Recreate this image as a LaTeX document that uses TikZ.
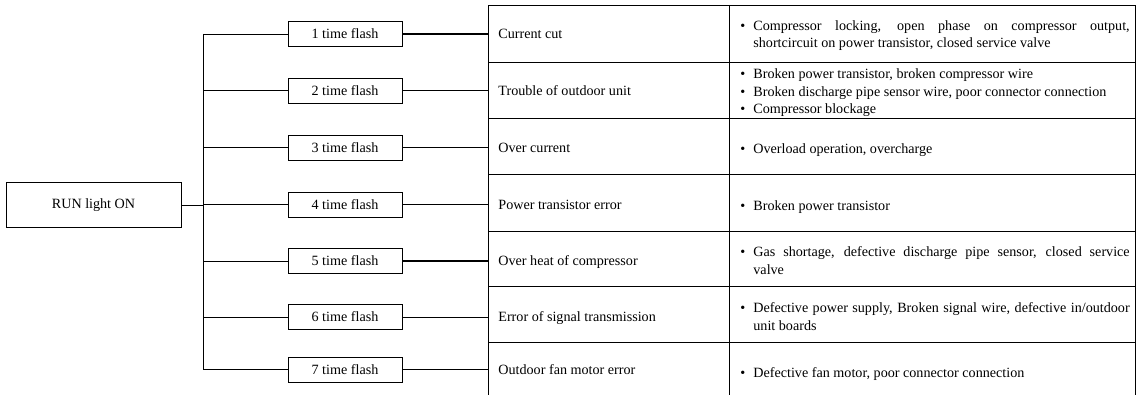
\documentclass[tikz,border=0pt]{standalone}
\usepackage{fontspec}
\setmainfont{Liberation Serif}
\usetikzlibrary{positioning}

\newlength{\bulw}
\setlength{\bulw}{9.75pt}
\newcommand{\bul}[1]{\par\noindent\makebox[\bulw][l]{\textbullet}\parbox[t]{282.25pt}{\setlength{\baselineskip}{13pt}#1}}

\begin{document}
\begin{tikzpicture}[x=0.75pt, y=-0.75pt, line width=0.6pt,
	font=\fontsize{10.6}{13}\selectfont,
	runbox/.style={draw, minimum width=131.25pt, minimum height=33.75pt, inner sep=0pt},
	flashbox/.style={draw, minimum width=85.5pt, minimum height=18.75pt, inner sep=0pt},
	fehler/.style={anchor=west, inner sep=0pt},
	ursache/.style={anchor=west, inner sep=0pt, text width=292pt, align=justify}]
	\useasboundingbox (0,0) rectangle (1138,395);
	
	% Zeichnet den Rahmen der Tabelle (unten offen)
	\draw (488,395) -- (488,5) -- (1135,5) -- (1135,395);
	\draw (729,5) -- (729,395);
	
	% Zeichnet die Zeilentrenner
	\draw (488,62) -- (1135,62);
	\draw (488,118) -- (1135,118);
	\draw (488,174) -- (1135,174);
	\draw (488,231) -- (1135,231);
	\draw (488,286) -- (1135,286);
	\draw (488,342) -- (1135,342);
	
	% Linke Kante der Tabelle und Stamm der Verzweigung
	\coordinate (tab) at (488,0);
	\coordinate (stamm) at (203,205);
	
	% Zeichnet das Startfeld
	\node[runbox] (run) at (93.5,205) {RUN light ON};
	
	% Zeichnet die Blinkfelder
	\node[flashbox] (f1) at (345,34) {1 time flash};
	\node[flashbox] (f2) at (345,90.5) {2 time flash};
	\node[flashbox] (f3) at (345,147.5) {3 time flash};
	\node[flashbox] (f4) at (345,204.5) {4 time flash};
	\node[flashbox] (f5) at (345,261) {5 time flash};
	\node[flashbox] (f6) at (345,317) {6 time flash};
	\node[flashbox] (f7) at (345,369.5) {7 time flash};
	
	% Zeichnet den Stamm und die Aeste zu den Blinkfeldern
	\draw (run.east) -- (stamm);
	\draw (stamm |- f1.west) -- (stamm |- f7.west);
	\draw (stamm |- f1.west) -- (f1.west);
	\draw (stamm |- f2.west) -- (f2.west);
	\draw (stamm |- f3.west) -- (f3.west);
	\draw (stamm |- f4.west) -- (f4.west);
	\draw (stamm |- f5.west) -- (f5.west);
	\draw (stamm |- f6.west) -- (f6.west);
	\draw (stamm |- f7.west) -- (f7.west);
	
	% Zeichnet die Verbindungen zur Tabelle
	\draw[line width=0.9pt] (f1.east) -- (f1.east -| tab);
	\draw[line width=0.9pt] (f2.east) -- (f2.east -| tab);
	\draw (f3.east) -- (f3.east -| tab);
	\draw (f4.east) -- (f4.east -| tab);
	\draw[line width=0.9pt] (f5.east) -- (f5.east -| tab);
	\draw (f6.east) -- (f6.east -| tab);
	\draw (f7.east) -- (f7.east -| tab);
	
	% Fehlerbezeichnungen in der ersten Spalte
	\node[fehler] (e1) at (498,34) {Current cut};
	\node[fehler] (e2) at (498,90.5) {Trouble of outdoor unit};
	\node[fehler] (e3) at (498,147.5) {Over current};
	\node[fehler] (e4) at (498,204.5) {Power transistor error};
	\node[fehler] (e5) at (498,262) {Over heat of compressor};
	\node[fehler] (e6) at (498,318) {Error of signal transmission};
	\node[fehler] (e7) at (498,370) {Outdoor fan motor error};
	
	% Ursachen in der zweiten Spalte
	\node[ursache] (u1) at (740,32) {\bul{Compressor locking, open phase on compressor output,\linebreak shortcircuit on power transistor, closed service valve}};
	\node[ursache] (u2) at (740,89) {\bul{Broken power transistor, broken compressor wire}\bul{Broken discharge pipe sensor wire, poor connector connection}\bul{Compressor blockage}};
	\node[ursache] (u3) at (740,146.5) {\bul{Overload operation, overcharge}};
	\node[ursache] (u4) at (740,203) {\bul{Broken power transistor}};
	\node[ursache] (u5) at (740,257) {\bul{Gas shortage, defective discharge pipe sensor, closed service\linebreak valve}};
	\node[ursache] (u6) at (740,313) {\bul{Defective power supply, Broken signal wire, defective in/outdoor\linebreak unit boards}};
	\node[ursache] (u7) at (740,370) {\bul{Defective fan motor, poor connector connection}};
	
\end{tikzpicture}
\end{document}
